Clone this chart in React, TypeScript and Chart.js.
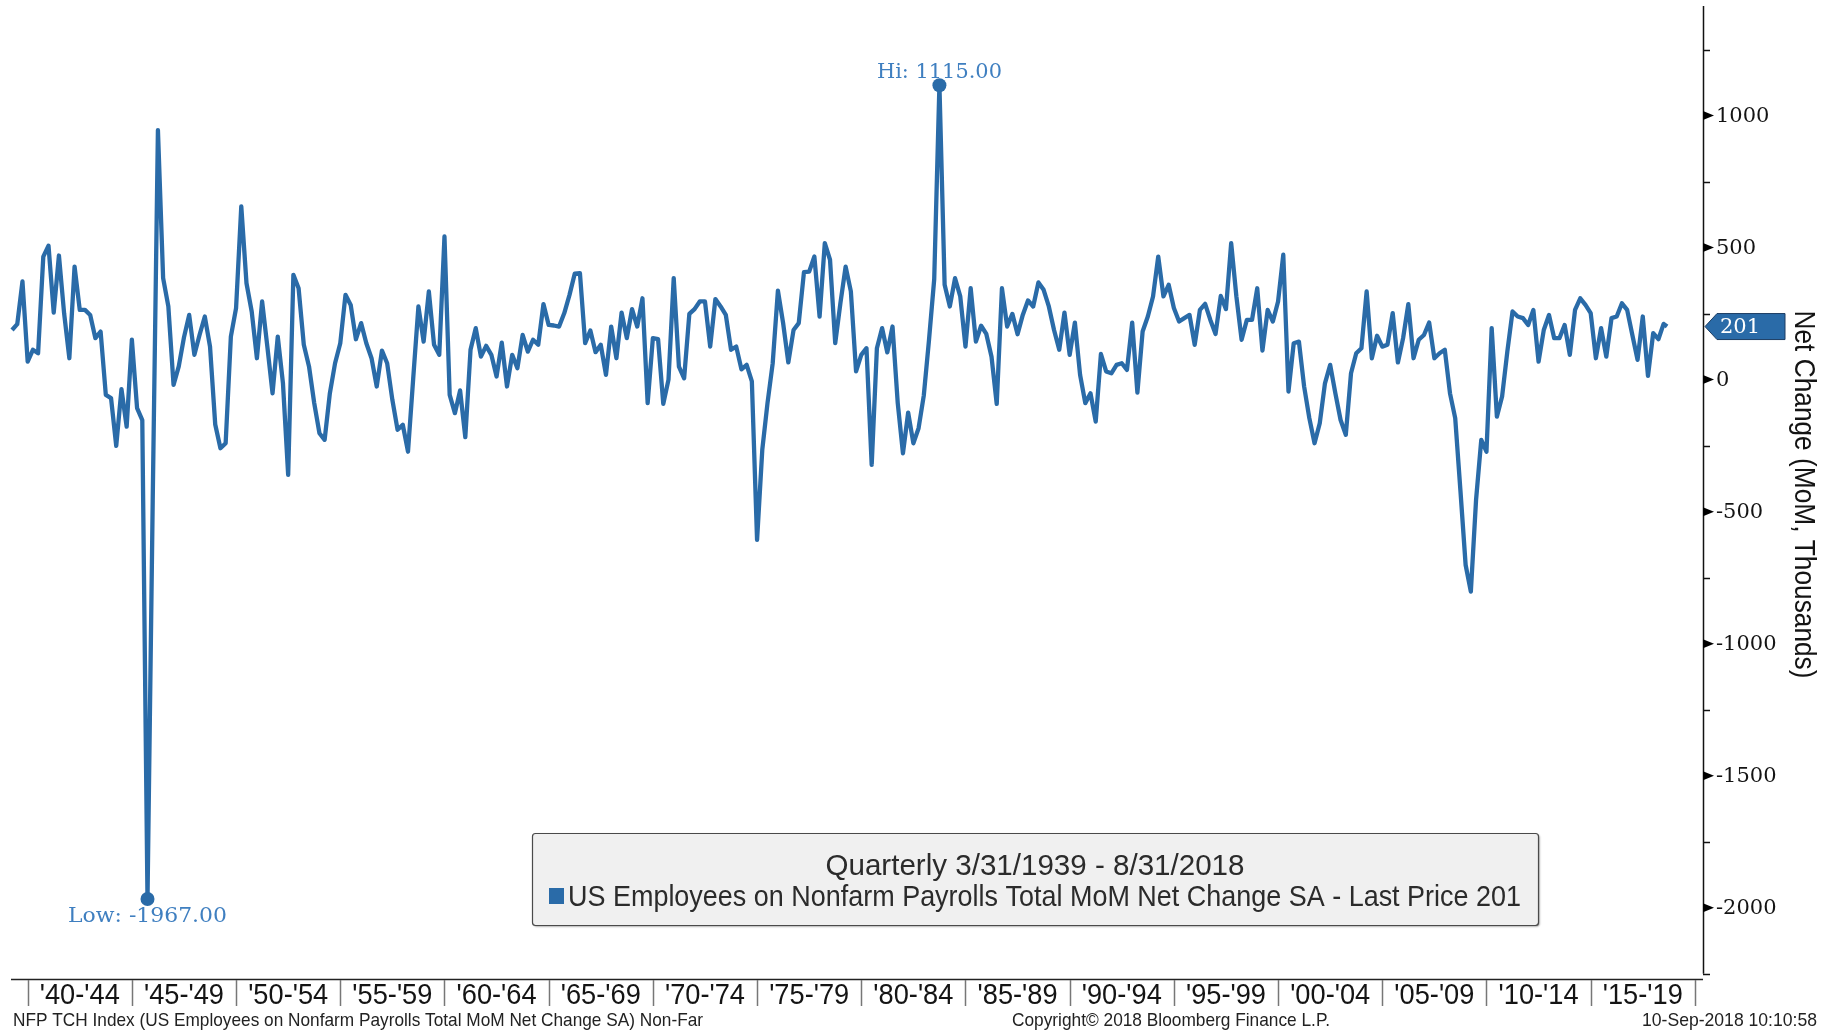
import React, { useEffect, useRef } from 'react';
import { Chart, registerables } from 'chart.js';

Chart.register(...registerables);

// ---- Data -----------------------------------------------------------------
// Quarterly samples (Mar/Jun/Sep/Dec) of the monthly net change, thousands.
const FIRST_QUARTER_END = 1939 + 3 / 12; // 3/31/1939
const LAST_DATE = 2018 + 8 / 12; // 8/31/2018 (latest observation)

const NFP_CHANGE: number[] = [
  // 1939
  188, 210, 372, 68,
  // 1940
  113, 100, 466, 507,
  // 1941
  254, 470, 250, 81,
  // 1942
  428, 264, 264, 245,
  // 1943
  157, 182, -58, -70,
  // 1944
  -251, -36, -178, 151,
  // 1945
  -108, -153, -1967, -460,
  // 1946
  945, 384, 277, -20,
  // 1947
  50, 160, 245, 94,
  // 1948
  170, 239, 125, -170,
  // 1949
  -260, -241, 163, 271,
  // 1950
  656, 365, 258, 81,
  // 1951
  296, 125, -52, 163,
  // 1952
  -14, -361, 397, 346,
  // 1953
  132, 50, -89, -203,
  // 1954
  -228, -52, 62, 138,
  // 1955
  321, 283, 153, 214,
  // 1956
  138, 81, -26, 110,
  // 1957
  62, -77, -190, -171,
  // 1958
  -273, 5, 277, 144,
  // 1959
  334, 132, 94, 542,
  // 1960
  -58, -127, -41, -218,
  // 1961
  113, 195, 87, 128,
  // 1962
  94, 12, 140, -26,
  // 1963
  94, 43, 169, 106,
  // 1964
  151, 132, 286, 207,
  // 1965
  205, 201, 252, 321,
  // 1966
  401, 403, 138, 186,
  // 1967
  104, 132, 18, 201,
  // 1968
  81, 254, 157, 267,
  // 1969
  201, 308, -89, 157,
  // 1970
  153, -92, 0, 384,
  // 1971
  49, 5, 249, 267,
  // 1972
  296, 296, 125, 305,
  // 1973
  277, 245, 113, 125,
  // 1974
  39, 56, -7, -607,
  // 1975
  -266, -89, 62, 337,
  // 1976
  214, 65, 188, 214,
  // 1977
  407, 409, 466, 239,
  // 1978
  517, 454, 138, 290,
  // 1979
  428, 334, 31, 94,
  // 1980
  119, -323, 119, 195,
  // 1981
  103, 201, -89, -279,
  // 1982
  -125, -241, -184, -60,
  // 1983
  150, 380, 1115, 359,
  // 1984
  277, 384, 315, 125,
  // 1985
  346, 144, 204, 173,
  // 1986
  87, -92, 346, 201,
  // 1987
  249, 172, 245, 300,
  // 1988
  277, 368, 340, 277,
  // 1989
  188, 113, 254, 94,
  // 1990
  216, 18, -89, -52,
  // 1991
  -159, 97, 31, 24,
  // 1992
  56, 62, 37, 216,
  // 1993
  -49, 182, 239, 315,
  // 1994
  466, 315, 359, 271,
  // 1995
  220, 233, 245, 132,
  // 1996
  264, 287, 226, 173,
  // 1997
  317, 267, 517, 315,
  // 1998
  151, 226, 226, 346,
  // 1999
  110, 264, 220, 296,
  // 2000
  473, -45, 138, 144,
  // 2001
  -26, -146, -241, -165,
  // 2002
  -14, 56, -52, -153,
  // 2003
  -209, 24, 100, 119,
  // 2004
  334, 81, 166, 125,
  // 2005
  132, 252, 65, 157,
  // 2006
  286, 81, 151, 169,
  // 2007
  216, 81, 100, 113,
  // 2008
  -52, -146, -420, -702,
  // 2009
  -803, -456, -228, -273,
  // 2010
  195, -140, -64, 106,
  // 2011
  258, 239, 233, 207,
  // 2012
  264, 68, 188, 245,
  // 2013
  157, 157, 207, 94,
  // 2014
  264, 308, 283, 252,
  // 2015
  81, 195, 87, 233,
  // 2016
  239, 289, 264, 169,
  // 2017
  75, 239, 14, 176,
  // 2018
  153, 211, 201,
];

const PERIOD_STARTS: number[] = [1940, 1945, 1950, 1955, 1960, 1965, 1970, 1975, 1980, 1985, 1990, 1995, 2000, 2005, 2010, 2015];
const PERIOD_LABELS: string[] = ["'40-'44", "'45-'49", "'50-'54", "'55-'59", "'60-'64", "'65-'69", "'70-'74", "'75-'79", "'80-'84", "'85-'89", "'90-'94", "'95-'99", "'00-'04", "'05-'09", "'10-'14", "'15-'19"];
const PERIOD_LENGTH = 5;

const Y_MAJOR_TICKS: number[] = [1000, 500, 0, -500, -1000, -1500, -2000];
const Y_MINOR_TICKS: number[] = [1250, 750, 250, -250, -750, -1250, -1750, -2250];

const LEGEND_TITLE = 'Quarterly 3/31/1939 - 8/31/2018';
const SERIES_NAME = 'US Employees on Nonfarm Payrolls Total MoM Net Change SA';
const AXIS_TITLE = 'Net Change (MoM, Thousands)';
const FOOTER_LEFT = 'NFP TCH Index (US Employees on Nonfarm Payrolls Total MoM Net Change SA) Non-Far';
const FOOTER_CENTER = 'Copyright\u00A9 2018 Bloomberg Finance L.P.';
const FOOTER_RIGHT = '10-Sep-2018 10:10:58';

// ---- Styles ---------------------------------------------------------------
const BLUE = '#2a6ba8';
const LABEL_BLUE = '#3f7fc0';
const TEXT = '#141414';
const NARROW = "'Liberation Sans Narrow', 'Liberation Sans', Arial, sans-serif";
const TICKFONT = "'DejaVu Serif', Georgia, serif";

function fitText(ctx: CanvasRenderingContext2D, text: string, x: number, y: number, width: number, align: CanvasTextAlign) {
  const w = ctx.measureText(text).width || 1;
  const s = width / w;
  ctx.save();
  ctx.translate(x, y);
  ctx.scale(s, 1);
  ctx.textAlign = align;
  ctx.fillText(text, 0, 0);
  ctx.restore();
}

export default function App() {
  const ref = useRef<HTMLCanvasElement | null>(null);

  useEffect(() => {
    document.body.style.margin = '0';
    const canvas = ref.current;
    if (!canvas) return;

    const n = NFP_CHANGE.length;
    const points = NFP_CHANGE.map((v, i) => ({
      x: i === n - 1 ? LAST_DATE : FIRST_QUARTER_END + i * 0.25,
      y: v,
    }));
    let hiIdx = 0;
    let loIdx = 0;
    NFP_CHANGE.forEach((v, i) => {
      if (v > NFP_CHANGE[hiIdx]) hiIdx = i;
      if (v < NFP_CHANGE[loIdx]) loIdx = i;
    });
    const last = NFP_CHANGE[n - 1];

    const overlay = {
      id: 'bbgOverlay',
      beforeDatasetsDraw(chart: any) {
        const ctx: CanvasRenderingContext2D = chart.ctx;
        const xs = chart.scales.x;
        const ys = chart.scales.y;
        const a = chart.chartArea;
        ctx.save();
        // bottom axis
        ctx.strokeStyle = '#222';
        ctx.lineWidth = 1.5;
        ctx.beginPath();
        ctx.moveTo(a.left, a.bottom + 0.5);
        ctx.lineTo(a.right, a.bottom + 0.5);
        ctx.stroke();
        // period separators
        ctx.strokeStyle = '#777';
        ctx.lineWidth = 1.5;
        const seps = [...PERIOD_STARTS, PERIOD_STARTS[PERIOD_STARTS.length - 1] + PERIOD_LENGTH];
        seps.forEach((yr) => {
          const px = Math.round(xs.getPixelForValue(yr)) + 0.5;
          ctx.beginPath();
          ctx.moveTo(px, a.bottom + 1);
          ctx.lineTo(px, a.bottom + 27);
          ctx.stroke();
        });
        ctx.fillStyle = TEXT;
        ctx.font = `29px ${NARROW}`;
        ctx.textBaseline = 'middle';
        PERIOD_LABELS.forEach((lab, k) => {
          const x0 = xs.getPixelForValue(PERIOD_STARTS[k]);
          const x1 = xs.getPixelForValue(PERIOD_STARTS[k] + PERIOD_LENGTH);
          fitText(ctx, lab, (x0 + x1) / 2, a.bottom + 17, 80, 'center');
        });
        // right axis
        ctx.strokeStyle = '#111';
        ctx.lineWidth = 1.5;
        ctx.beginPath();
        ctx.moveTo(a.right + 0.5, a.top);
        ctx.lineTo(a.right + 0.5, ys.getPixelForValue(-2250));
        ctx.stroke();
        Y_MINOR_TICKS.forEach((v) => {
          const py = Math.round(ys.getPixelForValue(v)) + 0.5;
          ctx.beginPath();
          ctx.moveTo(a.right, py);
          ctx.lineTo(a.right + 7, py);
          ctx.stroke();
        });
        ctx.fillStyle = '#000';
        Y_MAJOR_TICKS.forEach((v) => {
          const py = ys.getPixelForValue(v);
          ctx.beginPath();
          ctx.moveTo(a.right, py - 4.5);
          ctx.lineTo(a.right + 11, py);
          ctx.lineTo(a.right, py + 4.5);
          ctx.closePath();
          ctx.fill();
        });
        ctx.fillStyle = TEXT;
        ctx.font = `21px ${TICKFONT}`;
        ctx.textAlign = 'left';
        ctx.textBaseline = 'middle';
        Y_MAJOR_TICKS.forEach((v) => {
          ctx.fillText(String(v), a.right + 13, ys.getPixelForValue(v) + 1);
        });
        ctx.restore();
      },
      afterDraw(chart: any) {
        const ctx: CanvasRenderingContext2D = chart.ctx;
        const xs = chart.scales.x;
        const ys = chart.scales.y;
        const a = chart.chartArea;
        ctx.save();
        // last price tag
        const ly = ys.getPixelForValue(last);
        const lx = a.right + 2;
        ctx.beginPath();
        ctx.moveTo(lx, ly);
        ctx.lineTo(lx + 12, ly - 13);
        ctx.lineTo(lx + 80, ly - 13);
        ctx.lineTo(lx + 80, ly + 13);
        ctx.lineTo(lx + 12, ly + 13);
        ctx.closePath();
        ctx.fillStyle = BLUE;
        ctx.fill();
        ctx.strokeStyle = '#1c3d63';
        ctx.lineWidth = 1;
        ctx.stroke();
        ctx.fillStyle = '#ffffff';
        ctx.font = `21px ${TICKFONT}`;
        ctx.textAlign = 'left';
        ctx.textBaseline = 'middle';
        ctx.fillText(String(last), lx + 15, ly + 1);

        // axis title
        ctx.save();
        ctx.translate(1803, (a.top + a.bottom) / 2 + 2);
        ctx.rotate(Math.PI / 2);
        ctx.fillStyle = TEXT;
        ctx.font = `29px ${NARROW}`;
        ctx.textBaseline = 'middle';
        fitText(ctx, AXIS_TITLE, 0, 0, 368, 'center');
        ctx.restore();

        // hi / low annotations
        ctx.fillStyle = LABEL_BLUE;
        ctx.font = `21px ${TICKFONT}`;
        ctx.textBaseline = 'middle';
        const hx = xs.getPixelForValue(points[hiIdx].x);
        const hy = ys.getPixelForValue(points[hiIdx].y);
        fitText(ctx, `Hi: ${NFP_CHANGE[hiIdx].toFixed(2)}`, hx, hy - 13, 125, 'center');
        const lox = xs.getPixelForValue(points[loIdx].x);
        const loy = ys.getPixelForValue(points[loIdx].y);
        fitText(ctx, `Low: ${NFP_CHANGE[loIdx].toFixed(2)}`, lox, loy + 18, 159, 'center');

        // legend box
        const bx = 532, by = 833, bw = 1006, bh = 92;
        ctx.save();
        ctx.shadowColor = 'rgba(0,0,0,0.45)';
        ctx.shadowOffsetX = 1.5;
        ctx.shadowOffsetY = 1.5;
        ctx.shadowBlur = 2;
        ctx.beginPath();
        ctx.roundRect(bx, by, bw, bh, 3);
        ctx.fillStyle = '#f0f0f0';
        ctx.fill();
        ctx.restore();
        ctx.beginPath();
        ctx.roundRect(bx + 0.5, by + 0.5, bw, bh, 3);
        ctx.strokeStyle = '#4a4a4a';
        ctx.lineWidth = 1.2;
        ctx.stroke();
        ctx.fillStyle = '#2b2b2b';
        ctx.font = `29px ${NARROW}`;
        ctx.textBaseline = 'middle';
        fitText(ctx, LEGEND_TITLE, bx + bw / 2, by + 34, 419, 'center');
        ctx.fillStyle = BLUE;
        ctx.fillRect(549, by + 55, 15, 16);
        ctx.fillStyle = '#2b2b2b';
        fitText(ctx, `${SERIES_NAME} - Last Price ${last}`, 568, by + 65, 953, 'left');

        // footer
        ctx.fillStyle = '#222';
        ctx.font = `19px ${NARROW}`;
        ctx.textBaseline = 'middle';
        fitText(ctx, FOOTER_LEFT, 13, 1021, 690, 'left');
        fitText(ctx, FOOTER_CENTER, 1171, 1021, 318, 'center');
        fitText(ctx, FOOTER_RIGHT, 1817, 1021, 175, 'right');
        ctx.restore();
      },
    };

    const chart = new Chart(canvas, {
      type: 'line',
      data: {
        datasets: [
          {
            data: points,
            borderColor: BLUE,
            backgroundColor: BLUE,
            borderWidth: 4.3,
            borderJoinStyle: 'round',
            tension: 0,
            pointRadius: (c: any) => (c.dataIndex === hiIdx || c.dataIndex === loIdx ? 7 : 0),
            pointBackgroundColor: BLUE,
            pointBorderWidth: 0,
            pointHoverRadius: 0,
            clip: false as any,
          },
        ],
      },
      options: {
        animation: false,
        responsive: false,
        devicePixelRatio: 1,
        events: [],
        layout: { padding: { left: 11, right: 129, top: 6, bottom: 52 } },
        scales: {
          x: { type: 'linear', min: 1939.2, max: 2020.39, display: false },
          y: { type: 'linear', min: -2270, max: 1415, display: false },
        },
        plugins: { legend: { display: false }, tooltip: { enabled: false } },
      },
      plugins: [overlay],
    });
    return () => chart.destroy();
  }, []);

  return <canvas ref={ref} width={1832} height={1031} style={{ display: 'block', width: 1832, height: 1031 }} />;
}
